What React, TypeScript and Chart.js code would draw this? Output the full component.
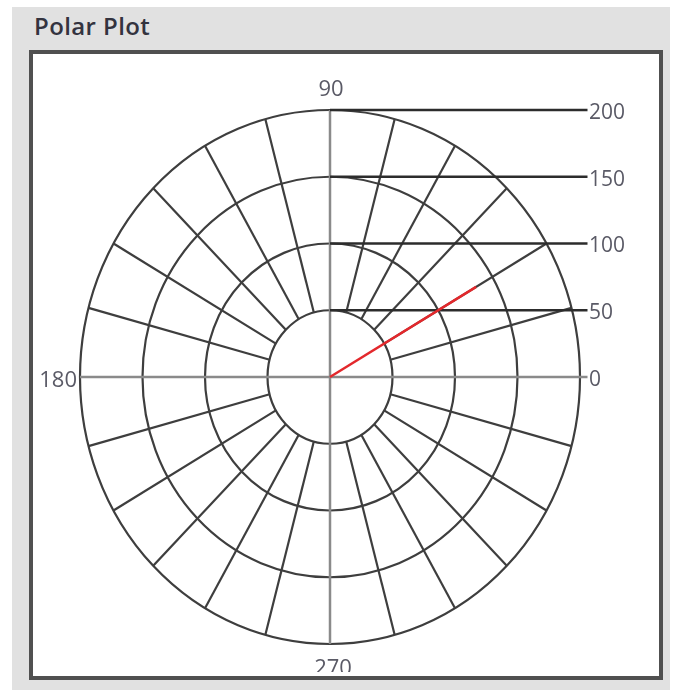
import React, { useEffect, useRef } from "react";
import { Chart, registerables } from "chart.js";

Chart.register(...registerables);

// ---- data ----
const radialTicks = [50, 100, 150, 200];
const radialLabelValues = [0, 50, 100, 150, 200];
const axisAngles = [0, 90, 180, 270];
const angleLabels = ["0", "90", "180", "270"];
const spokeAngles = [15, 30, 45, 60, 75, 105, 120, 135, 150, 165, 195, 210, 225, 240, 255, 285, 300, 315, 330, 345];
const vectorMagnitude = [135];
const vectorAngleDeg = [30];
const leaderEnd = 206;

const GRID = "#3e3e3e";
const AXIS = "#8a8a8a";
const LABEL = "#5a5a66";
const FONT = "'Open Sans', 'DejaVu Sans', sans-serif";

const rad = (d: number) => (d * Math.PI) / 180;

const polarGrid = {
  id: "polarGrid",
  beforeDatasetsDraw(chart: any) {
    const { ctx } = chart;
    const x = chart.scales.x;
    const y = chart.scales.y;
    const cx = x.getPixelForValue(0);
    const cy = y.getPixelForValue(0);
    ctx.save();
    ctx.strokeStyle = GRID;
    ctx.lineWidth = 2.2;
    for (const r of radialTicks) {
      const rx = x.getPixelForValue(r) - cx;
      const ry = cy - y.getPixelForValue(r);
      ctx.beginPath();
      ctx.ellipse(cx, cy, rx, ry, 0, 0, Math.PI * 2);
      ctx.stroke();
    }
    const r0 = radialTicks[0];
    const r1 = radialTicks[radialTicks.length - 1];
    for (const a of spokeAngles) {
      const t = rad(a);
      ctx.beginPath();
      ctx.moveTo(x.getPixelForValue(r0 * Math.cos(t)), y.getPixelForValue(r0 * Math.sin(t)));
      ctx.lineTo(x.getPixelForValue(r1 * Math.cos(t)), y.getPixelForValue(r1 * Math.sin(t)));
      ctx.stroke();
    }
    ctx.restore();
  },
  afterDatasetsDraw(chart: any) {
    const { ctx } = chart;
    const x = chart.scales.x;
    const y = chart.scales.y;
    const rMax = radialTicks[radialTicks.length - 1];
    ctx.save();
    ctx.font = `22px ${FONT}`;
    ctx.fillStyle = LABEL;
    ctx.textBaseline = "middle";
    axisAngles.forEach((a, i) => {
      if (a === 0) return; // shown by radial "0" tick
      const t = rad(a);
      const px = x.getPixelForValue(rMax * Math.cos(t));
      const py = y.getPixelForValue(rMax * Math.sin(t));
      if (a === 90) {
        ctx.textAlign = "center";
        ctx.fillText(angleLabels[i], px + 1, py - 20);
      } else if (a === 180) {
        ctx.textAlign = "right";
        ctx.fillText(angleLabels[i], px - 3, py + 4);
      } else {
        ctx.save();
        ctx.beginPath();
        ctx.rect(0, 0, chart.width, py + 28);
        ctx.clip();
        ctx.textAlign = "center";
        ctx.fillText(angleLabels[i], px + 3, py + 25);
        ctx.restore();
      }
    });
    ctx.restore();
  },
};

export default function App() {
  const ref = useRef<HTMLCanvasElement>(null);

  useEffect(() => {
    const canvas = ref.current;
    if (!canvas) return;
    const vx = vectorMagnitude[0] * Math.cos(rad(vectorAngleDeg[0]));
    const vy = vectorMagnitude[0] * Math.sin(rad(vectorAngleDeg[0]));
    const rMax = radialTicks[radialTicks.length - 1];
    const line = (data: any[], color: string, width: number) => ({
      data,
      showLine: true,
      borderColor: color,
      backgroundColor: color,
      borderWidth: width,
      pointRadius: 0,
      clip: false,
    });
    const chart = new Chart(canvas, {
      type: "scatter",
      data: {
        datasets: [
          line([{ x: 0, y: 0 }, { x: vx, y: vy }], "#e3282c", 2.5),
          ...radialTicks.map((t) => line([{ x: 0, y: t }, { x: leaderEnd, y: t }], "#2c2c2c", 2.5)),
          line([{ x: -rMax, y: 0 }, { x: leaderEnd, y: 0 }], AXIS, 2.5),
          line([{ x: 0, y: rMax }, { x: 0, y: -rMax }], AXIS, 2.5),
        ],
      },
      options: {
        responsive: false,
        animation: false,
        events: [],
        layout: { padding: { left: 80, top: 110, bottom: 46, right: 14 } },
        plugins: { legend: { display: false }, tooltip: { enabled: false } },
        scales: {
          x: { type: "linear", min: -200, max: 200, display: false },
          y: {
            type: "linear",
            min: -200,
            max: 200,
            position: "right",
            grid: { display: false, drawTicks: false },
            border: { display: false },
            afterFit: (s: any) => {
              s.width = 80;
            },
            ticks: {
              stepSize: 50,
              autoSkip: false,
              padding: 9,
              labelOffset: 3,
              color: LABEL,
              font: { size: 21, family: FONT },
              callback: (v: any) => (radialLabelValues.includes(Number(v)) ? String(v) : ""),
            },
          },
        },
      },
      plugins: [polarGrid],
    });
    return () => chart.destroy();
  }, []);

  return (
    <div style={{ position: "absolute", left: 0, top: 0, width: 674, height: 690, background: "#fff", overflow: "hidden" }}>
      <div style={{ position: "absolute", left: 12, top: 7, width: 658, height: 683, background: "#e1e1e1" }} />
      <div
        style={{
          position: "absolute",
          left: 34,
          top: 14,
          fontFamily: FONT,
          fontSize: 24,
          fontWeight: 600,
          letterSpacing: "0.4px",
          lineHeight: "23px",
          color: "#33333f",
          whiteSpace: "nowrap",
        }}
      >
        Polar Plot
      </div>
      <div
        style={{
          position: "absolute",
          left: 29,
          top: 50,
          width: 634,
          height: 630,
          boxSizing: "border-box",
          border: "4px solid #505050",
          background: "#fff",
          overflow: "hidden",
        }}
      >
        <canvas ref={ref} width={674} height={690} style={{ position: "absolute", left: -33, top: -54 }} />
      </div>
    </div>
  );
}
